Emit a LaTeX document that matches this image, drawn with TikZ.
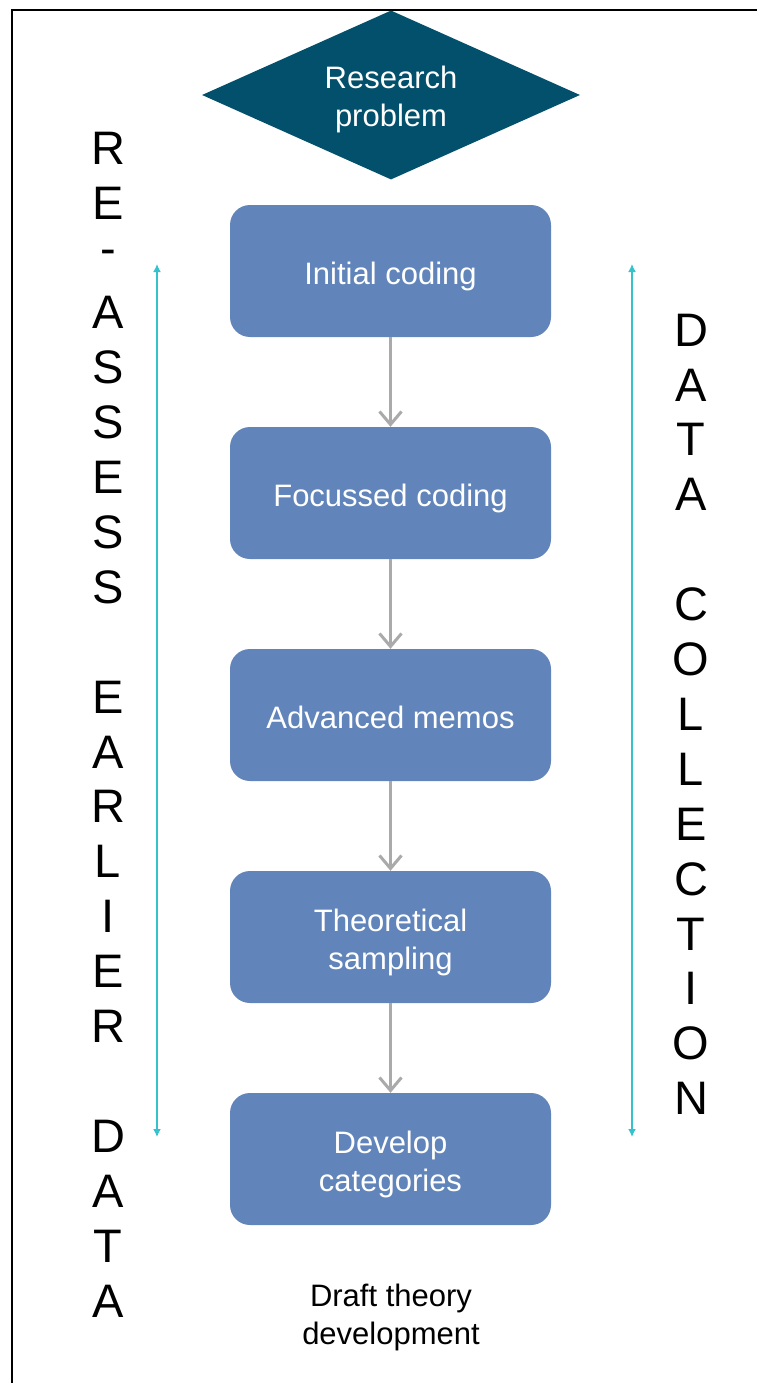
\documentclass[tikz,border=0pt]{standalone}
\usepackage{fontspec}
\setmainfont{Liberation Sans}
\usetikzlibrary{shapes.geometric,arrows.meta}
\definecolor{deepteal}{HTML}{02506B}
\definecolor{stepblue}{HTML}{6185BA}
\definecolor{flowgray}{HTML}{AAAAAA}
\definecolor{loopcyan}{HTML}{35C2CC}
% fixed struts on the first and last line keep every text block at the same height
\newcommand{\tallstrut}{\rule{0pt}{34pt}}
\newcommand{\deepstrut}{\rule[-8pt]{0pt}{8pt}}
\begin{document}
\begin{tikzpicture}[x=1pt,y=-1pt,
  textset/.style={font=\fontsize{31}{38}\selectfont, align=center},
  problemshape/.style={textset, diamond, fill=deepteal, text=white, inner sep=0pt,
    minimum width=378pt, minimum height=169pt, aspect=2.24},
  stepbox/.style={textset, rectangle, rounded corners=20pt, fill=stepblue, text=white,
    minimum width=321pt, minimum height=132pt, inner sep=0pt},
  flow/.style={draw=flowgray, line width=3pt,
    -{Straight Barb[length=13pt,width=22pt,line width=3pt]}},
  loopline/.style={draw=loopcyan, line width=1.6pt,
    {Latex[length=8pt,width=8pt]}-{Latex[length=8pt,width=8pt]}},
  sideletter/.style={inner sep=0pt, anchor=center,
    font=\fontsize{47}{47}\selectfont},
  caption/.style={textset, inner sep=0pt}
]
\useasboundingbox (0,0) rectangle (757,1383);
\fill[white] (0,0) rectangle (757,1383);
% frame along the top and left edges
\draw[line width=2.5pt] (757,10) -- (12,10) -- (12,1383);

% central flow
\node[problemshape] (problem) at (391,95) {\tallstrut Research\\problem\deepstrut};
\node[stepbox] (initial)   at (390.5,271)  {\tallstrut Initial coding\deepstrut};
\node[stepbox] (focussed)  at (390.5,493)  {\tallstrut Focussed coding\deepstrut};
\node[stepbox] (memos)     at (390.5,715)  {\tallstrut Advanced memos\deepstrut};
\node[stepbox] (sampling)  at (390.5,937)  {\tallstrut Theoretical\\sampling\deepstrut};
\node[stepbox] (categories) at (390.5,1159) {\tallstrut Develop\\categories\deepstrut};
\node[caption] (draft) at (391,1312) {\tallstrut Draft theory\\development\deepstrut};

\draw[flow] (initial.south) -- (focussed.north);
\draw[flow] (focussed.south) -- (memos.north);
\draw[flow] (memos.south) -- (sampling.north);
\draw[flow] (sampling.south) -- (categories.north);

% iteration arrows on both sides
\coordinate (lefttop) at (157,264);
\coordinate (leftbottom) at (157,1137);
\coordinate (righttop) at (632,264);
\coordinate (rightbottom) at (632,1137);
\draw[loopline] (lefttop) -- (leftbottom);
\draw[loopline] (righttop) -- (rightbottom);

% vertical lettering, left column
\foreach \i/\ch in {0/R,1/E,2/-,3/A,4/S,5/S,6/E,7/S,8/S,
                    10/E,11/A,12/R,13/L,14/I,15/E,16/R,
                    18/D,19/A,20/T,21/A}
  \node[sideletter] (left\i) at (108,{148+54.9*\i}) {\ch};

% vertical lettering, right column
\foreach \i/\ch in {0/D,1/A,2/T,3/A,
                    5/C,6/O,7/L,8/L,9/E,10/C,11/T,12/I,13/O,14/N}
  \node[sideletter] (right\i) at (691,{330+54.9*\i}) {\ch};
\end{tikzpicture}
\end{document}
